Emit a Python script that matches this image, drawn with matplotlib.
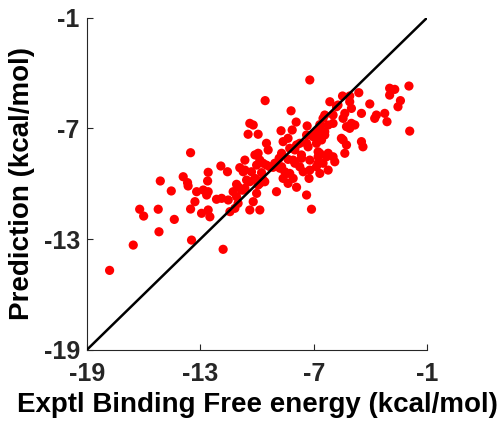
import matplotlib
matplotlib.use("Agg")
import matplotlib.pyplot as plt

exptl = [-17.79, -16.54, -16.20, -15.99, -15.22, -15.18, -15.11, -14.53, -14.37, -13.90,
         -13.67, -13.51, -13.46, -13.51, -13.28, -13.19, -12.84, -12.58, -12.66, -12.58,
         -12.61, -12.93, -12.58, -12.49, -13.64, -12.14, -11.87, -11.52, -11.91, -11.56,
         -11.79, -11.43, -11.17, -11.00, -11.08, -11.26, -11.00, -10.73, -11.08, -10.91,
         -10.64, -10.64, -10.29, -10.02, -10.55, -10.02, -10.38, -9.59, -9.94, -10.02,
         -10.20, -10.38, -9.85, -10.82, -10.64, -9.85, -10.11, -10.38, -10.20, -10.47,
         -9.94, -9.57, -8.20, -8.73, -7.93, -8.14, -7.35, -6.68, -6.42, -6.15,
         -9.50, -9.41, -8.62, -8.36, -8.70, -7.91, -7.74, -7.30, -7.04, -6.68,
         -6.77, -8.00, -8.83, -8.36, -7.65, -8.00, -7.21, -6.68, -6.33, -9.94,
         -10.11, -9.85, -9.68, -9.50, -9.15, -9.76, -8.79, -8.53, -8.27, -8.09,
         -7.74, -7.56, -7.21, -6.86, -6.68, -7.25, -7.91, -8.36, -8.97, -9.68,
         -8.62, -7.38, -7.12, -10.73, -9.32, -9.06, -8.70, -8.44, -8.09, -6.51,
         -8.27, -7.38, -6.77, -7.21, -5.72, -5.10, -5.01, -4.04, -4.62, -5.10,
         -5.48, -5.80, -5.98, -6.51, -4.48, -3.69, -3.25, -3.13, -3.78, -1.97,
         -2.99, -2.72, -2.99, -2.42, -2.55, -1.93, -5.36, -5.45, -7.38, -6.77,
         -6.42, -6.24, -5.98, -5.27, -5.01, -4.83, -5.10, -5.45, -5.27, -4.48,
         -4.40, -6.77, -6.24, -5.98, -5.89, -5.36, -6.24, -6.59, -6.86, -6.42,
         -6.68, -6.95, -5.54, -7.65, -6.77]

predicted = [-14.69, -13.32, -11.38, -11.75, -11.38, -12.60, -9.85, -10.39, -11.93, -9.62,
             -9.94, -8.32, -13.05, -11.37, -10.97, -10.43, -10.34, -10.43, -10.61, -9.38,
             -9.85, -11.60, -11.42, -11.79, -10.12, -10.84, -10.79, -10.88, -9.04, -9.35,
             -13.55, -11.51, -11.33, -11.06, -10.70, -10.43, -10.16, -10.34, -10.03, -9.13,
             -8.72, -9.26, -9.35, -8.99, -9.80, -9.80, -9.89, -9.89, -10.07, -10.52,
             -10.97, -11.42, -11.42, -10.34, -10.25, -9.98, -9.71, -6.73, -6.82, -7.32,
             -7.32, -5.50, -6.05, -7.13, -6.66, -7.09, -6.87, -6.80, -6.28, -5.56,
             -7.81, -8.17, -7.72, -7.54, -8.35, -7.90, -7.81, -8.00, -7.45, -7.27,
             -7.63, -8.17, -8.62, -8.68, -8.62, -8.89, -8.72, -8.35, -8.54, -8.35,
             -8.44, -8.72, -8.89, -8.99, -9.11, -9.40, -9.16, -9.35, -9.44, -9.71,
             -9.08, -9.35, -9.26, -9.08, -9.44, -9.71, -10.19, -9.98, -10.43, -9.80,
             -9.71, -10.61, -11.38, -9.35, -9.08, -8.89, -9.08, -9.44, -8.72, -8.89,
             -8.08, -7.81, -8.89, -4.38, -5.74, -5.56, -5.92, -5.68, -5.07, -5.25,
             -5.25, -5.83, -6.28, -6.46, -6.19, -6.28, -6.19, -6.64, -6.46, -4.71,
             -4.83, -4.89, -5.20, -5.50, -5.83, -7.15, -6.19, -6.46, -7.36, -7.18,
             -7.18, -6.82, -6.73, -6.91, -6.73, -6.82, -7.00, -7.63, -7.90, -7.72,
             -8.00, -8.27, -8.35, -8.54, -8.81, -8.35, -9.26, -7.63, -7.81, -7.36,
             -7.00, -7.27, -7.54, -8.44, -8.54]

ticks = [-19, -13, -7, -1]
tick_labels = ["-19", "-13", "-7", "-1"]
xlabel = "Exptl Binding Free energy (kcal/mol)"
ylabel = "Prediction (kcal/mol)"

plt.rcParams['font.family'] = ['Liberation Sans', 'DejaVu Sans']

fig = plt.figure(figsize=(5.02, 4.23), dpi=100)
ax = fig.add_axes([0.1727, 0.1726, 0.6785, 0.786])

ax.plot([-19, -1], [-19, -1], color='black', lw=1.8, zorder=3)
ax.scatter(exptl, predicted, s=44, color='#ff0000', edgecolors='none', zorder=2)

ax.set_xlim(-19, -1)
ax.set_ylim(-19, -1)
ax.set_xticks(ticks)
ax.set_yticks(ticks)
ax.set_xticklabels(tick_labels, fontsize=18, fontweight='bold')
ax.set_yticklabels(tick_labels, fontsize=18, fontweight='bold')
ax.tick_params(direction='in', length=4, width=0.8, color='#262626', labelcolor='#262626')
ax.tick_params(axis='x', pad=9)
ax.tick_params(axis='y', pad=5)
for s in ['top', 'right']:
    ax.spines[s].set_visible(False)
for s in ['left', 'bottom']:
    ax.spines[s].set_color('#262626')
    ax.spines[s].set_linewidth(0.8)

ax.set_xlabel(xlabel, fontsize=20, fontweight='bold', labelpad=4, color='black')
ax.set_ylabel(ylabel, fontsize=20, fontweight='bold', labelpad=6, color='black')

fig.savefig("out.png", dpi=100)
